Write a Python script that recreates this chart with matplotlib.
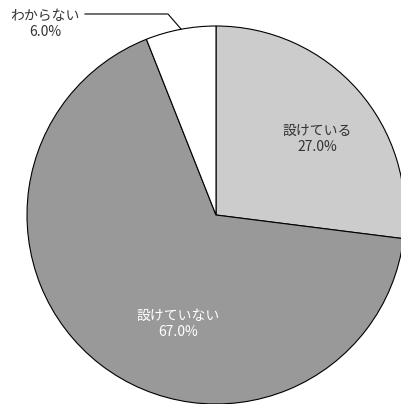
import matplotlib
matplotlib.use("Agg")
import matplotlib.pyplot as plt

plt.rcParams['font.family'] = ['Noto Sans CJK JP', 'DejaVu Sans']

# data
labels = ['設けている', '設けていない', 'わからない']
values = [27.0, 67.0, 6.0]
colors = ['#cccccc', '#999999', '#ffffff']

W, H = 401, 404
cx, cy, R = 216, 215, 189  # pie center / radius in pixels


def to_data(px, py):
    return (px - cx) / R, (cy - py) / R


fig = plt.figure(figsize=(W / 100, H / 100), dpi=100)
ax = fig.add_axes([0, 0, 1, 1])
ax.pie(values, colors=colors, startangle=90, counterclock=False,
       wedgeprops=dict(edgecolor='black', linewidth=0.8))
ax.set_xlim(-cx / R, (W - cx) / R)
ax.set_ylim(-(H - cy) / R, cy / R)
ax.set_aspect('equal')
ax.axis('off')

# slice labels
x, y = to_data(317, 139)
ax.text(x, y, f"{labels[0]}\n{values[0]:.1f}%", ha='center', va='center',
        fontsize=10, color='#333333', linespacing=1.15)
x, y = to_data(178, 324)
ax.text(x, y, f"{labels[1]}\n{values[1]:.1f}%", ha='center', va='center',
        fontsize=10, color='white', linespacing=1.15)
x, y = to_data(45, 24)
ax.text(x, y, f"{labels[2]}\n{values[2]:.1f}%", ha='center', va='center',
        fontsize=10, color='#333333', linespacing=1.15)

# leader line for small slice
p1 = to_data(85, 14)
p2 = to_data(168, 14)
p3 = to_data(181, 29)
ax.plot([p1[0], p2[0], p3[0]], [p1[1], p2[1], p3[1]], color='black', lw=0.8)

fig.savefig("out.png", dpi=100)
